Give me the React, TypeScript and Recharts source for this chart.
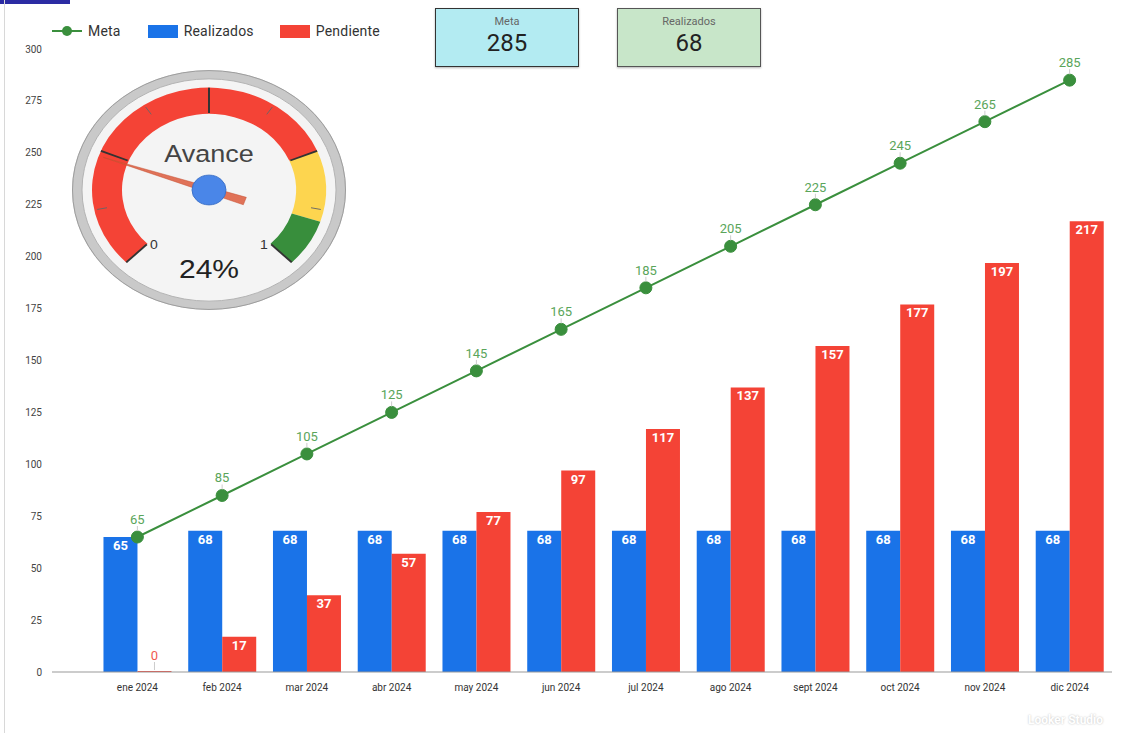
import React from "react";
import {
  ComposedChart,
  Bar,
  Line,
  XAxis,
  YAxis,
  LabelList,
  PieChart,
  Pie,
  Cell,
} from "recharts";

const months = [
  "ene 2024", "feb 2024", "mar 2024", "abr 2024", "may 2024", "jun 2024",
  "jul 2024", "ago 2024", "sept 2024", "oct 2024", "nov 2024", "dic 2024",
];
const meta = [65, 85, 105, 125, 145, 165, 185, 205, 225, 245, 265, 285];
const realizados = [65, 68, 68, 68, 68, 68, 68, 68, 68, 68, 68, 68];
const pendiente = [0, 17, 37, 57, 77, 97, 117, 137, 157, 177, 197, 217];
const yTicks = [0, 25, 50, 75, 100, 125, 150, 175, 200, 225, 250, 275, 300];

const metaTotal = 285;
const realizadosTotal = 68;

// gauge bands as share of 0..1
const gaugeBands = [
  { name: "bajo", value: 0.75, fill: "#f44336" },
  { name: "medio", value: 0.15, fill: "#fdd54f" },
  { name: "alto", value: 0.1, fill: "#388e3c" },
];

const data = months.map((m, i) => ({
  month: m,
  meta: meta[i],
  realizados: realizados[i],
  pendiente: pendiente[i],
}));

const BLUE = "#1a73e8";
const RED = "#f44336";
const GREEN = "#3a8f3d";
const FONT = "Roboto, 'Noto Sans', Arial, sans-serif";
const GFONT = "Arial, 'Liberation Sans', sans-serif";

// zero values still get a hairline bar so their label shows
const zeroHairline = (value: any) => (Number(value) === 0 ? 1 : 0);

const BarLabel = (props: any) => {
  const { x, y, width, height, value, zeroColor } = props;
  const cx = Number(x) + Number(width) / 2;
  const top = Number(y);
  if (Number(value) === 0) {
    const base = top + Number(height || 0);
    return (
      <g>
        <line x1={cx} x2={cx} y1={base - 10} y2={base - 2} stroke="#ccc" strokeWidth={1} />
        <text x={cx} y={base - 12} textAnchor="middle" fill={zeroColor} fontSize={13} fontFamily={FONT}>
          {value}
        </text>
      </g>
    );
  }
  return (
    <text x={cx} y={top + 13} textAnchor="middle" fill="#fff" fontSize={13} fontWeight={700} fontFamily={FONT}>
      {value}
    </text>
  );
};

const LineLabel = (props: any) => {
  const { x, y, value } = props;
  return (
    <g>
      <line x1={x} x2={x} y1={y - 11} y2={y - 6} stroke="#ccc" strokeWidth={1} />
      <text x={x} y={y - 13} textAnchor="middle" fill="#5aa55a" fontSize={13} fontFamily={FONT}>
        {value}
      </text>
    </g>
  );
};

const ChartLegend = () => (
  <div
    style={{
      position: "absolute",
      left: 52,
      top: 23,
      display: "flex",
      alignItems: "center",
      fontFamily: FONT,
      fontSize: 14,
      letterSpacing: 0.2,
      color: "#333",
    }}
  >
    <svg width={30} height={12} style={{ marginRight: 6 }}>
      <line x1={0} x2={30} y1={6} y2={6} stroke={GREEN} strokeWidth={2} />
      <circle cx={15} cy={6} r={5} fill={GREEN} />
    </svg>
    <span style={{ marginRight: 27 }}>Meta</span>
    <span style={{ width: 30, height: 13, background: BLUE, marginRight: 6, display: "inline-block" }} />
    <span style={{ marginRight: 26 }}>Realizados</span>
    <span style={{ width: 30, height: 13, background: RED, marginRight: 6, display: "inline-block" }} />
    <span>Pendiente</span>
  </div>
);

const KpiBox = ({ left, label, value, bg, border }: any) => (
  <div
    style={{
      position: "absolute",
      left,
      top: 8,
      width: 142,
      height: 57,
      background: bg,
      border: `1px solid ${border}`,
      boxShadow: "0 1px 2px rgba(0,0,0,0.3)",
      fontFamily: FONT,
      textAlign: "center",
    }}
  >
    <div style={{ fontSize: 11, color: "#666", marginTop: 6 }}>{label}</div>
    <div style={{ fontSize: 24, color: "#222", lineHeight: "30px" }}>{value}</div>
  </div>
);

// gauge geometry
const G = 280;
const GC = G / 2;
const START = 225;
const END = -45;
const polar = (r: number, deg: number) => {
  const a = (deg * Math.PI) / 180;
  return { x: GC + r * Math.cos(a), y: GC - r * Math.sin(a) };
};
const valueAngle = (v: number) => START - v * (START - END);

const GaugeOverlay = () => {
  const avance = realizadosTotal / metaTotal;
  const ang = valueAngle(avance);
  const tip = polar(112, ang);
  const tail = polar(-38, ang);
  const perp = ang + 90;
  const w = polar(4.5, perp);
  const a1 = { x: tail.x + w.x - GC, y: tail.y + w.y - GC };
  const a2 = { x: tail.x - (w.x - GC), y: tail.y - (w.y - GC) };
  const major = [0, 0.25, 0.5, 0.75, 1];
  const minor = [0.125, 0.375, 0.625, 0.875];
  return (
    <svg width={G} height={G} style={{ position: "absolute", left: 0, top: 0 }}>
      <circle cx={GC} cy={GC} r={136.5} fill="none" stroke="#9a9a9a" strokeWidth={1} />
      <circle cx={GC} cy={GC} r={127} fill="none" stroke="#b0b0b0" strokeWidth={1} />
      {major.map((v) => {
        const p1 = polar(88, valueAngle(v));
        const p2 = polar(117, valueAngle(v));
        return <line key={v} x1={p1.x} y1={p1.y} x2={p2.x} y2={p2.y} stroke="#333" strokeWidth={2} />;
      })}
      {minor.map((v) => {
        const p1 = polar(104, valueAngle(v));
        const p2 = polar(114, valueAngle(v));
        return <line key={v} x1={p1.x} y1={p1.y} x2={p2.x} y2={p2.y} stroke="#666" strokeWidth={1} />;
      })}
      <text x={GC} y={GC - 32} textAnchor="middle" fontSize={27} fill="#444" fontFamily={GFONT}>
        Avance
      </text>
      <text x={GC - 55} y={GC + 68} textAnchor="middle" fontSize={14} fill="#333" fontFamily={GFONT}>
        0
      </text>
      <text x={GC + 55} y={GC + 68} textAnchor="middle" fontSize={14} fill="#333" fontFamily={GFONT}>
        1
      </text>
      <text x={GC} y={GC + 101} textAnchor="middle" fontSize={30} fill="#222" fontFamily={GFONT}>
        {Math.round(avance * 100)}%
      </text>
      <path
        d={`M ${a1.x} ${a1.y} L ${tip.x} ${tip.y} L ${a2.x} ${a2.y} Z`}
        fill="#dc5a3c"
        fillOpacity={0.85}
        stroke="#c44a2c"
        strokeWidth={0.5}
      />
      <circle cx={GC} cy={GC} r={17} fill="#4a86e8" stroke="#3a6fc8" strokeWidth={1} />
    </svg>
  );
};

const Gauge = () => (
  <div
    style={{
      position: "absolute",
      left: 209 - GC,
      top: 190 - GC,
      width: G,
      height: G,
      transform: "scaleY(0.875)",
      transformOrigin: "center center",
    }}
  >
    <PieChart width={G} height={G} margin={{ top: 0, right: 0, bottom: 0, left: 0 }}>
      <Pie data={[{ v: 1 }]} dataKey="v" cx={GC} cy={GC} outerRadius={137} fill="#c9c9c9" stroke="none" isAnimationActive={false} />
      <Pie data={[{ v: 1 }]} dataKey="v" cx={GC} cy={GC} outerRadius={127} fill="#f4f4f4" stroke="none" isAnimationActive={false} />
      <Pie
        data={gaugeBands}
        dataKey="value"
        cx={GC}
        cy={GC}
        startAngle={START}
        endAngle={END}
        innerRadius={87}
        outerRadius={117}
        stroke="none"
        isAnimationActive={false}
      >
        {gaugeBands.map((b) => (
          <Cell key={b.name} fill={b.fill} />
        ))}
      </Pie>
    </PieChart>
    <GaugeOverlay />
  </div>
);

export default function App() {
  return (
    <div style={{ position: "fixed", left: 0, top: 0, width: 1123, height: 733, background: "#fff", overflow: "hidden" }}>
      <div style={{ position: "absolute", left: 0, top: 0, width: 70, height: 4, background: "#2b2ba3" }} />
      <div style={{ position: "absolute", left: 4, top: 0, width: 1, height: 733, background: "#d8d8d8" }} />
      <ComposedChart
        width={1123}
        height={733}
        data={data}
        margin={{ top: 49, right: 11, bottom: 31, left: 10 }}
        barCategoryGap="10%"
        barGap={0}
      >
        <XAxis
          dataKey="month"
          padding={{ left: 43, right: 0 }}
          tickLine={false}
          axisLine={{ stroke: "#999" }}
          tick={{ fontSize: 10, fill: "#333", fontFamily: FONT }}
          height={30}
          interval={0}
          tickMargin={6}
        />
        <YAxis
          domain={[0, 300]}
          ticks={yTicks}
          axisLine={false}
          tickLine={false}
          width={42}
          tick={{ fontSize: 10, fill: "#444", fontFamily: FONT }}
          tickMargin={4}
        />
        <Bar dataKey="realizados" name="Realizados" fill={BLUE} minPointSize={zeroHairline} isAnimationActive={false}>
          <LabelList dataKey="realizados" content={<BarLabel zeroColor={BLUE} />} />
        </Bar>
        <Bar dataKey="pendiente" name="Pendiente" fill={RED} minPointSize={zeroHairline} isAnimationActive={false}>
          <LabelList dataKey="pendiente" content={<BarLabel zeroColor="#f05a50" />} />
        </Bar>
        <Line
          dataKey="meta"
          name="Meta"
          stroke={GREEN}
          strokeWidth={2}
          dot={{ r: 6, fill: GREEN, stroke: GREEN, strokeWidth: 1 }}
          activeDot={false}
          isAnimationActive={false}
        >
          <LabelList dataKey="meta" content={<LineLabel />} />
        </Line>
      </ComposedChart>
      <ChartLegend />
      <KpiBox left={435} label="Meta" value={metaTotal} bg="#b3ebf2" border="#333" />
      <KpiBox left={617} label="Realizados" value={realizadosTotal} bg="#c8e6c9" border="#555" />
      <Gauge />
      <div
        style={{
          position: "absolute",
          left: 1028,
          top: 713,
          fontFamily: FONT,
          fontSize: 12,
          fontWeight: 700,
          color: "#fff",
          textShadow: "0 0 2px #bbb",
        }}
      >
        Looker Studio
      </div>
    </div>
  );
}
